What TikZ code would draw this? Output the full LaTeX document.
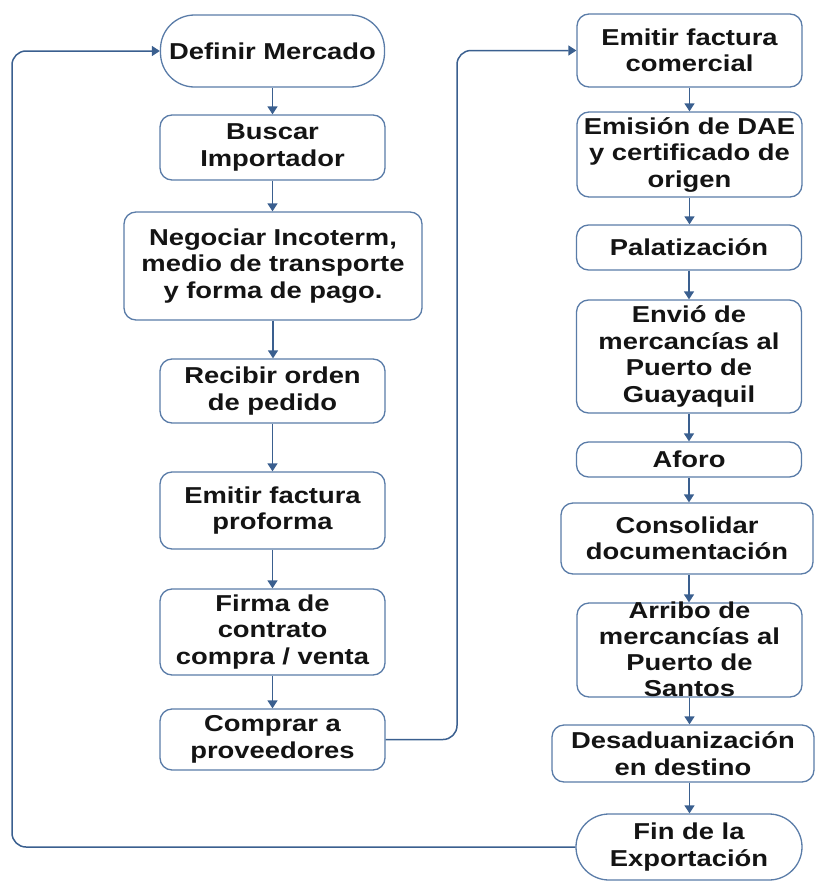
\documentclass[tikz,border=0pt]{standalone}
\usepackage{fontspec}
\setmainfont[FakeStretch=1.19]{Liberation Sans}
\usetikzlibrary{arrows.meta}
\definecolor{lc}{HTML}{3A5F8F}
\definecolor{bc}{HTML}{5A7CA8}
\definecolor{tc}{HTML}{141414}
\begin{document}
\begin{tikzpicture}[x=1pt,y=-1pt,
  box/.style={draw=bc, line width=1.3pt, rounded corners=12pt, fill=white, inner sep=0pt,
    align=center, text=tc, font=\fontsize{23}{26.5}\selectfont\bfseries},
  term/.style={box, rounded corners=34pt},
  plain/.style={inner sep=0pt, align=center, text=tc, font=\fontsize{23}{26}\selectfont\bfseries},
  arr/.style={draw=lc, line width=1.5pt, -{Triangle[width=10pt,length=8pt]}}]
\useasboundingbox (0,0) rectangle (815,881);
% left column
\node[term, minimum width=224pt, minimum height=72pt] (a1) at (272.5,51) {Definir Mercado};
\node[box, minimum width=225pt, minimum height=65pt] (a2) at (272.5,147.5) {Buscar\\Importador};
\node[box, minimum width=298pt, minimum height=108pt] (a3) at (273,266) {Negociar Incoterm,\\medio de transporte\\y forma de pago.};
\node[box, minimum width=225pt, minimum height=64pt] (a4) at (272.5,391) {Recibir orden\\de pedido};
\node[box, minimum width=225pt, minimum height=77pt] (a5) at (272.5,510.5) {Emitir factura\\proforma};
\node[box, minimum width=225pt, minimum height=86pt] (a6) at (272.5,632) {Firma de\\contrato\\compra / venta};
\node[box, minimum width=225pt, minimum height=61pt] (a7) at (272.5,739.5) {Comprar a\\proveedores};
% right column
\node[box, minimum width=225pt, minimum height=73pt] (b1) at (689.5,50.5) {Emitir factura\\comercial};
\node[box, minimum width=225pt, minimum height=85pt] (b2) at (689.5,154.5) {Emisión de DAE\\y certificado de\\origen};
\node[box, minimum width=225pt, minimum height=45pt] (b3) at (689,247.5) {Palatización};
\node[box, minimum width=225pt, minimum height=113pt] (b4) at (689,356.5) {Envió de\\mercancías al\\Puerto de\\Guayaquil};
\node[box, minimum width=225pt, minimum height=35pt] (b5) at (689,459.5) {Aforo};
\node[box, minimum width=252pt, minimum height=71pt] (b6) at (687,538.5) {Consolidar\\documentación};
\node[box, minimum width=225pt, minimum height=94pt] (b7) at (689.5,650) {};
\node[plain] (b7t) at (689.5,649) {Arribo de\\mercancías al\\Puerto de\\Santos};
\node[box, minimum width=262pt, minimum height=57pt] (b8) at (683,753.5) {Desaduanización\\en destino};
\node[term, rounded corners=33pt, minimum width=226pt, minimum height=66pt] (b9) at (689,847) {Fin de la\\Exportación};
% connectors
\foreach \u/\v in {a1/a2,a2/a3,a3/a4,a4/a5,a5/a6,a6/a7}
  \draw[arr] (\u.south) -- (\u.south |- \v.north);
\draw[arr] (b1.south) -- (b1.south |- b2.north);
\draw[arr] (b2.south) -- (b2.south |- b3.north);
\draw[arr] (b3.south) -- (b3.south |- b4.north);
\draw[arr] (b4.south) -- (b4.south |- b5.north);
\draw[arr] (b5.south) -- (b5.south |- b6.north);
\draw[arr] (b5.south |- b6.south) -- (b5.south |- b7.north);
\draw[arr] (b7.south) -- (b7.south |- b8.north);
\draw[arr] (b7.south |- b8.south) -- (b7.south |- b9.north);
\coordinate (jr) at (457,400);
\coordinate (jl) at (12,400);
\draw[arr, rounded corners=14pt] (a7.east) -| (jr) |- (b1.west);
\draw[arr, rounded corners=14pt] (b9.west) -| (jl) |- (a1.west);
\end{tikzpicture}
\end{document}
